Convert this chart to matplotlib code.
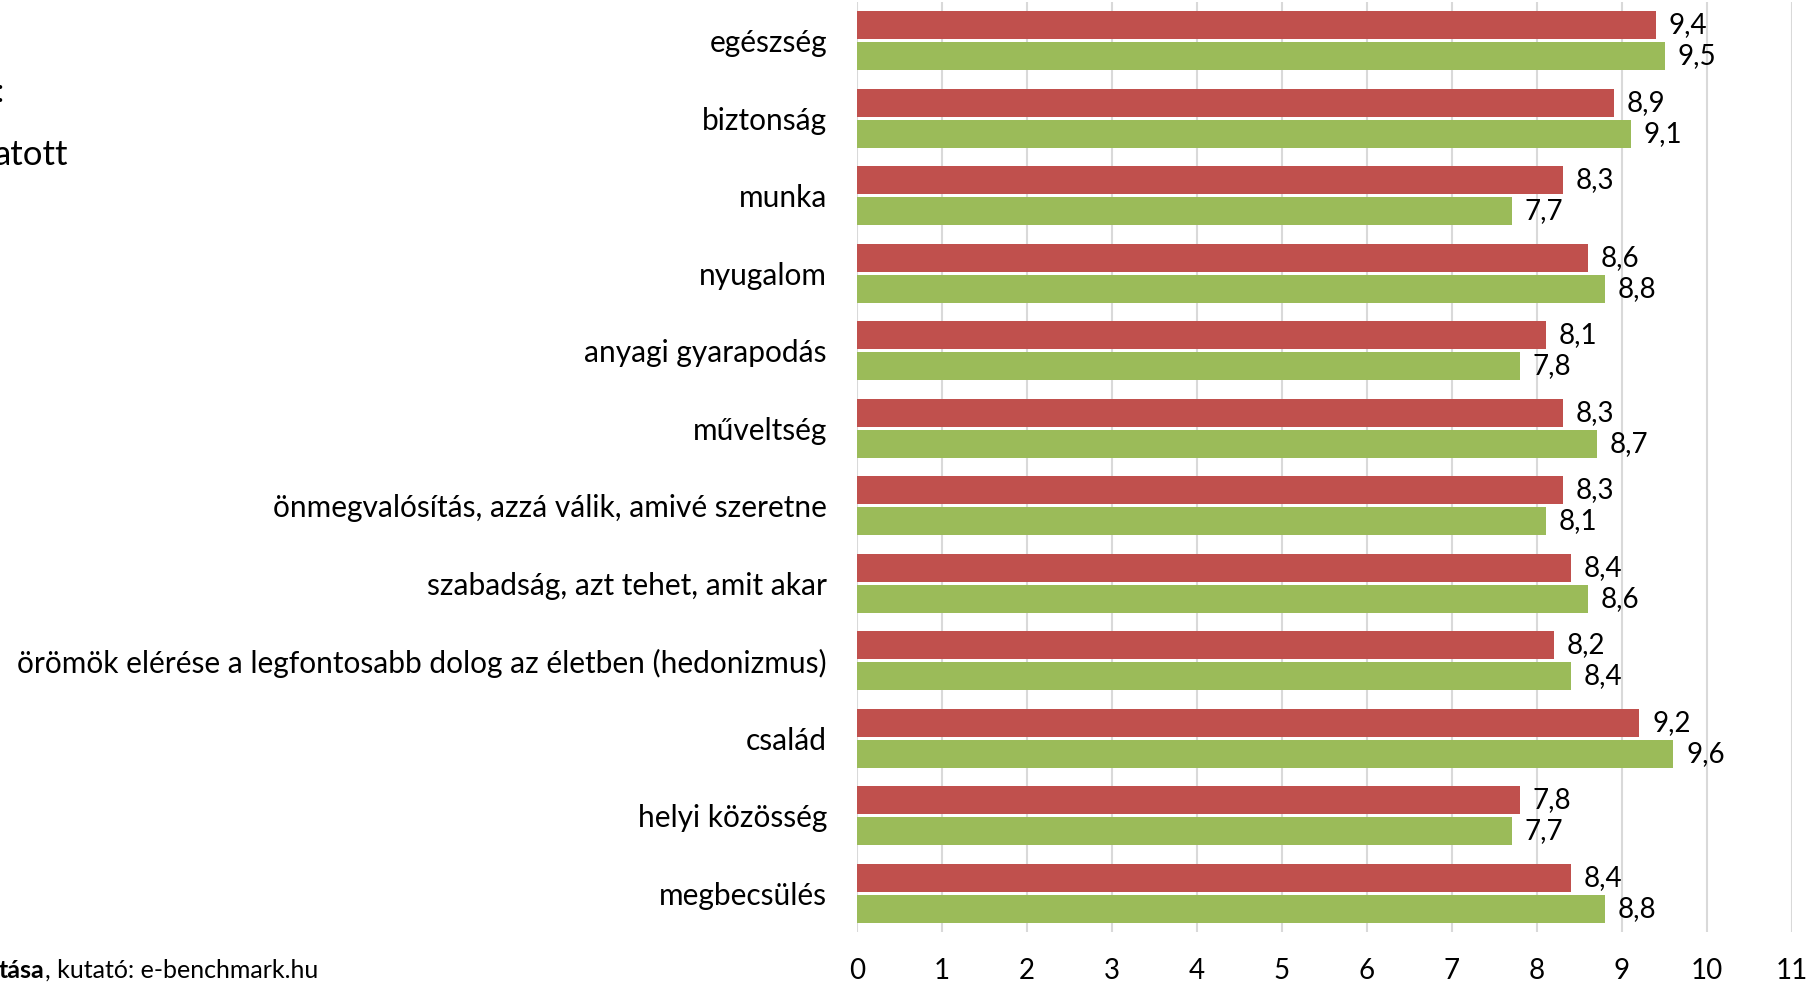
import matplotlib.pyplot as plt
import numpy as np

plt.rcParams['font.family'] = ['Lato', 'DejaVu Sans']

categories = ["egészség", "biztonság", "munka", "nyugalom", "anyagi gyarapodás",
              "műveltség", "önmegvalósítás, azzá válik, amivé szeretne",
              "szabadság, azt tehet, amit akar",
              "örömök elérése a legfontosabb dolog az életben (hedonizmus)",
              "család", "helyi közösség", "megbecsülés"]
red_values = [9.4, 8.9, 8.3, 8.6, 8.1, 8.3, 8.3, 8.4, 8.2, 9.2, 7.8, 8.4]
green_values = [9.5, 9.1, 7.7, 8.8, 7.8, 8.7, 8.1, 8.6, 8.4, 9.6, 7.7, 8.8]
x_ticks = list(range(0, 12))

W, H = 1816, 982
fig = plt.figure(figsize=(W / 100, H / 100), dpi=100)
ax = fig.add_axes([857 / W, 50 / H, (1792 - 857) / W, 930 / H])

y = np.arange(len(categories))
bh = 0.361
off = 0.2
red_bars = ax.barh(y - off, red_values, height=bh, color='#C0504D', zorder=2)
green_bars = ax.barh(y + off, green_values, height=bh, color='#9BBB59', zorder=2)

# value labels, decimal comma
for bars, vals in ((red_bars, red_values), (green_bars, green_values)):
    for b, v in zip(bars, vals):
        ax.annotate(f"{v:.1f}".replace('.', ','),
                    xy=(b.get_width(), b.get_y() + b.get_height() / 2),
                    xytext=(13, 0), textcoords='offset pixels',
                    ha='left', va='center', fontsize=20, color='black')

ax.set_xlim(0, 11)
ax.set_ylim(len(categories) - 0.5, -0.5)
ax.set_xticks(x_ticks)
ax.set_xticklabels([str(t) for t in x_ticks], fontsize=20)
ax.set_yticks(y)
ax.set_yticklabels(categories, fontsize=21.5)
ax.tick_params(axis='y', length=0, pad=21.6)
ax.tick_params(axis='x', length=0, pad=18.5)
ax.grid(axis='x', color='#d9d9d9', linewidth=1.5, zorder=0)
for s in ax.spines.values():
    s.set_visible(False)

# clipped legend fragments on the left edge
fig.text(-4 / W, 1 - 93 / H, ":", fontsize=24, ha='left', va='center')
fig.text(-6 / W, 1 - 155 / H, "atott", fontsize=25, ha='left', va='center')

# clipped source line
t1 = fig.text(-1 / W, 1 - 970 / H, "tása", fontsize=18, fontweight='bold',
              ha='left', va='center')
fig.canvas.draw()
bb = t1.get_window_extent()
fig.text(bb.x1 / W, 1 - 970 / H, ", kutató: e-benchmark.hu", fontsize=18,
         ha='left', va='center')

fig.savefig("out.png", dpi=100)
